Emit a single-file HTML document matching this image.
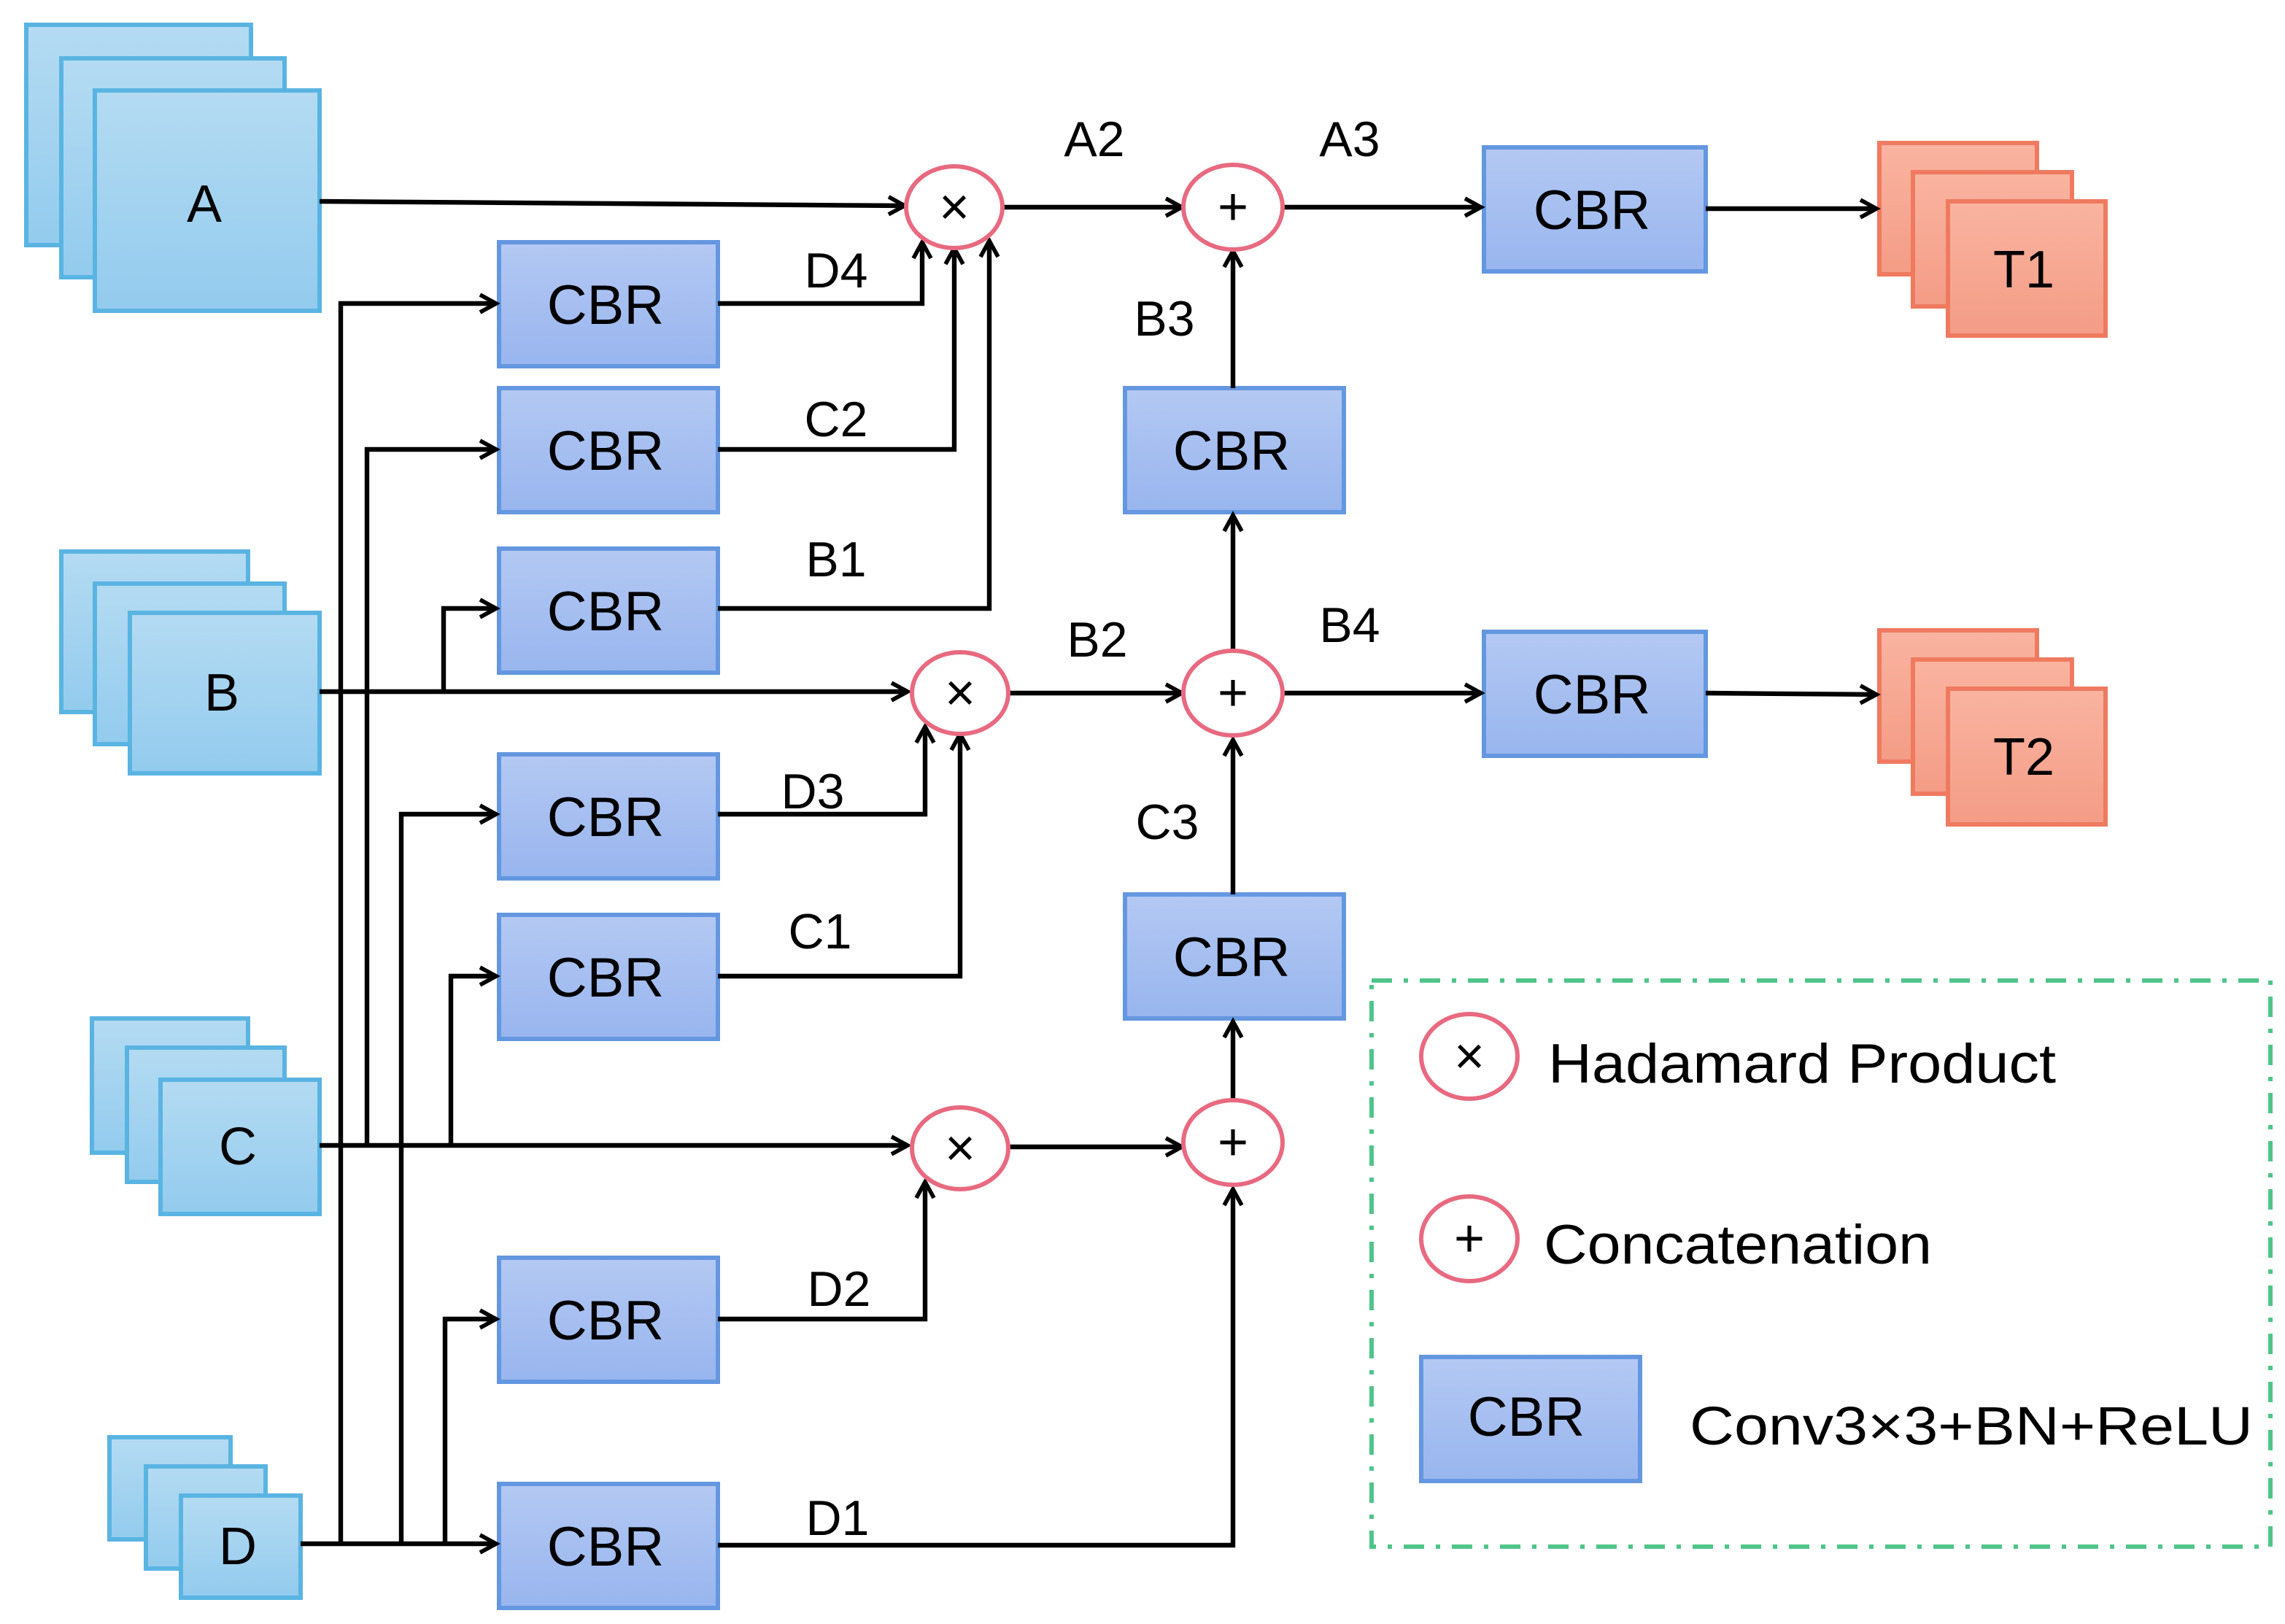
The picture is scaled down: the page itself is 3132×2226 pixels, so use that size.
<!DOCTYPE html>
<html><head><meta charset="utf-8"><style>html,body{margin:0;padding:0;background:#fff}svg{display:block}</style></head>
<body>
<svg width="3132" height="2226" viewBox="0 0 1566 1113" xmlns="http://www.w3.org/2000/svg" font-family="Liberation Sans, Arial, sans-serif">
<defs>
<linearGradient id="gb" x1="0" y1="0" x2="0" y2="1"><stop offset="0" stop-color="#b4dbf2"/><stop offset="1" stop-color="#93cbee"/></linearGradient>
<linearGradient id="gc" x1="0" y1="0" x2="0" y2="1"><stop offset="0" stop-color="#b4c9f3"/><stop offset="1" stop-color="#98b5ee"/></linearGradient>
<linearGradient id="go" x1="0" y1="0" x2="0" y2="1"><stop offset="0" stop-color="#f9b4a0"/><stop offset="1" stop-color="#f49c86"/></linearGradient>
<marker id="ar" markerWidth="16" markerHeight="16" refX="13" refY="8" orient="auto" markerUnits="userSpaceOnUse"><path d="M2,2 L13,8 L2,14" fill="none" stroke="#000" stroke-width="2.8"/></marker>
</defs>
<g fill="url(#gb)" stroke="#5ab4e2" stroke-width="3">
<rect x="18" y="17" width="154" height="151"/><rect x="42" y="40" width="153" height="150"/><rect x="65" y="62" width="154" height="151"/>
<rect x="42" y="378" width="128" height="110"/><rect x="65" y="400" width="130" height="110"/><rect x="89" y="420" width="130" height="110"/>
<rect x="63" y="698" width="107" height="92"/><rect x="87" y="718" width="108" height="92"/><rect x="110" y="740" width="109" height="92"/>
<rect x="75" y="985" width="83" height="70"/><rect x="100" y="1005" width="82" height="70"/><rect x="124" y="1025" width="82" height="70"/>
</g>
<g fill="url(#go)" stroke="#ef7a60" stroke-width="3">
<rect x="1288" y="98" width="108" height="90"/><rect x="1311" y="118" width="109" height="92"/><rect x="1335" y="138" width="108" height="92"/>
<rect x="1288" y="432" width="108" height="90"/><rect x="1311" y="452" width="109" height="92"/><rect x="1335" y="472" width="108" height="93"/>
</g>
<g font-size="36" text-anchor="middle" fill="#000">
<text x="140" y="152">A</text><text x="152" y="487">B</text><text x="163" y="798">C</text><text x="163" y="1072">D</text>
<text x="1387" y="197">T1</text><text x="1387" y="531">T2</text>
</g>
<g fill="url(#gc)" stroke="#6497e0" stroke-width="3">
<rect x="342" y="166" width="150" height="85"/><rect x="342" y="266" width="150" height="85"/><rect x="342" y="376" width="150" height="85"/>
<rect x="342" y="517" width="150" height="85"/><rect x="342" y="627" width="150" height="85"/><rect x="342" y="862" width="150" height="85"/>
<rect x="342" y="1017" width="150" height="85"/>
<rect x="771" y="266" width="150" height="85"/><rect x="771" y="613" width="150" height="85"/>
<rect x="1017" y="101" width="152" height="85"/><rect x="1017" y="433" width="152" height="85"/>
<rect x="974" y="930" width="150" height="85"/>
</g>
<g font-size="38" text-anchor="middle" fill="#000">
<text x="415" y="222">CBR</text><text x="415" y="322">CBR</text><text x="415" y="432">CBR</text>
<text x="415" y="573">CBR</text><text x="415" y="683">CBR</text><text x="415" y="918">CBR</text><text x="415" y="1073">CBR</text>
<text x="844" y="322">CBR</text><text x="844" y="669">CBR</text>
<text x="1091" y="157">CBR</text><text x="1091" y="489">CBR</text>
<text x="1046" y="984">CBR</text>
</g>
<g fill="none" stroke="#000" stroke-width="3.2">
<path d="M219,138 L620,141" marker-end="url(#ar)"/>
<path d="M688,142 L810,142" marker-end="url(#ar)"/>
<path d="M880,142 L1015,142" marker-end="url(#ar)"/>
<path d="M1169,143 L1286,143" marker-end="url(#ar)"/>
<path d="M845,266 L845,172" marker-end="url(#ar)"/>
<path d="M845,445 L845,353" marker-end="url(#ar)"/>
<path d="M690,475 L810,475" marker-end="url(#ar)"/>
<path d="M219,474 L622,474" marker-end="url(#ar)"/>
<path d="M880,475 L1015,475" marker-end="url(#ar)"/>
<path d="M1169,475 L1286,476" marker-end="url(#ar)"/>
<path d="M845,613 L845,507" marker-end="url(#ar)"/>
<path d="M845,755 L845,700" marker-end="url(#ar)"/>
<path d="M219,785 L622,785" marker-end="url(#ar)"/>
<path d="M692,786 L810,786" marker-end="url(#ar)"/>
<path d="M206,1058 L340,1058" marker-end="url(#ar)"/>
<path d="M492,1059 L845,1059 L845,815" marker-end="url(#ar)"/>
<path d="M492,208 L632,208 L632,166" marker-end="url(#ar)"/>
<path d="M492,308 L654,308 L654,170" marker-end="url(#ar)"/>
<path d="M492,417 L678,417 L678,165" marker-end="url(#ar)"/>
<path d="M492,558 L634,558 L634,498" marker-end="url(#ar)"/>
<path d="M492,669 L658,669 L658,503" marker-end="url(#ar)"/>
<path d="M492,904 L634,904 L634,810" marker-end="url(#ar)"/>
<path d="M233.5,1058 L233.5,208 L340,208" marker-end="url(#ar)"/>
<path d="M251.5,785 L251.5,308 L340,308" marker-end="url(#ar)"/>
<path d="M304,474 L304,417 L340,417" marker-end="url(#ar)"/>
<path d="M275,1058 L275,558 L340,558" marker-end="url(#ar)"/>
<path d="M309,785 L309,669 L340,669" marker-end="url(#ar)"/>
<path d="M305,1058 L305,904 L340,904" marker-end="url(#ar)"/>
</g>
<g fill="#fff" stroke="#e86a80" stroke-width="3">
<ellipse cx="654" cy="142" rx="33" ry="28"/><ellipse cx="658" cy="475" rx="33" ry="28"/><ellipse cx="658" cy="787" rx="33" ry="28"/>
<ellipse cx="845" cy="142" rx="34" ry="29"/><ellipse cx="845" cy="475" rx="34" ry="29"/><ellipse cx="845" cy="783" rx="34" ry="29"/>
<ellipse cx="1007" cy="724" rx="33" ry="29"/><ellipse cx="1007" cy="849" rx="33" ry="29"/>
</g>
<g font-size="36" text-anchor="middle" fill="#000">
<text x="654" y="154">×</text><text x="658" y="487">×</text><text x="658" y="799">×</text><text x="1007" y="736">×</text>
<text x="845" y="154">+</text><text x="845" y="487">+</text><text x="845" y="795">+</text><text x="1007" y="861">+</text>
</g>
<g font-size="34" text-anchor="middle" fill="#000">
<text x="750" y="107">A2</text><text x="925" y="107">A3</text><text x="798" y="230">B3</text>
<text x="752" y="450">B2</text><text x="925" y="440">B4</text><text x="800" y="575">C3</text>
<text x="573" y="197">D4</text><text x="573" y="299">C2</text><text x="573" y="395">B1</text>
<text x="557" y="554">D3</text><text x="562" y="650">C1</text><text x="575" y="895">D2</text><text x="574" y="1052">D1</text>
</g>
<rect x="940" y="672" width="616" height="388" fill="none" stroke="#4fc58a" stroke-width="3" stroke-dasharray="14,8,3,8"/>
<g font-size="38" fill="#000">
<text x="1061" y="742" textLength="348" lengthAdjust="spacingAndGlyphs">Hadamard Product</text>
<text x="1058" y="866" textLength="266" lengthAdjust="spacingAndGlyphs">Concatenation</text>
<text x="1158" y="990" font-size="37" textLength="386" lengthAdjust="spacingAndGlyphs">Conv3×3+BN+ReLU</text>
</g>
</svg>
</body></html>
